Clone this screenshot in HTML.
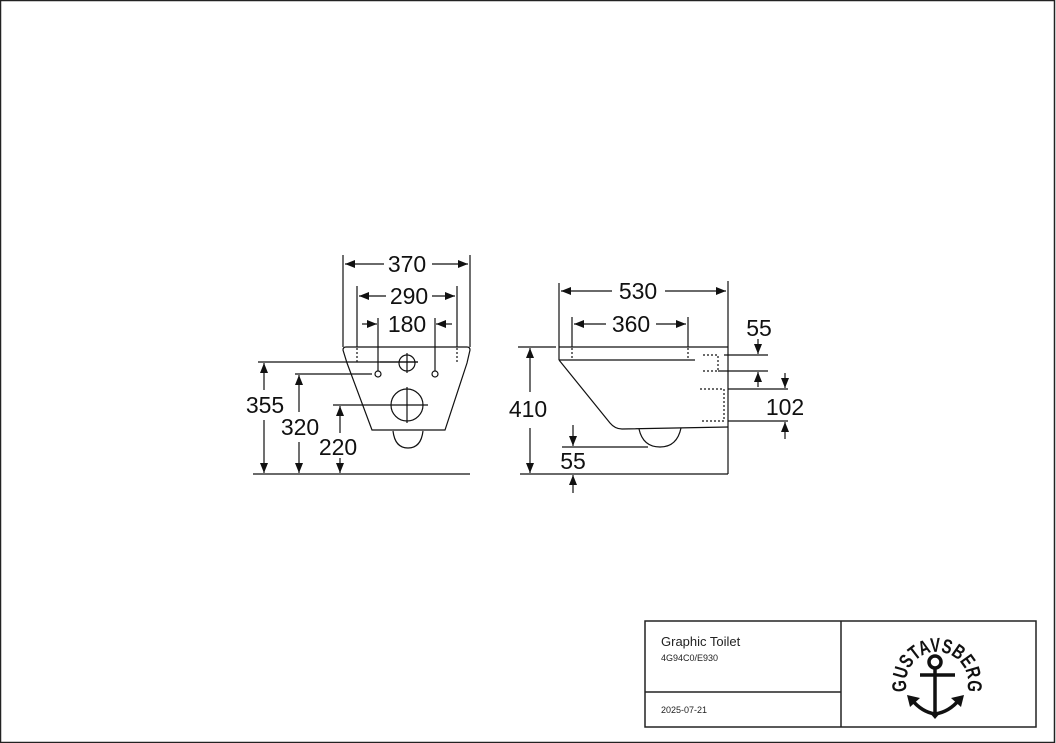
<!DOCTYPE html>
<html><head><meta charset="utf-8"><style>
html,body{margin:0;padding:0;background:#fff}
svg{display:block}
.d{font-family:"Liberation Sans",sans-serif;font-size:23px;fill:#111;text-anchor:middle}
</style></head><body>
<svg width="1056" height="743" viewBox="0 0 1056 743" xmlns="http://www.w3.org/2000/svg">
<defs>
<marker id="a" viewBox="0 0 10 8" refX="10" refY="4" markerWidth="10" markerHeight="8" markerUnits="userSpaceOnUse" orient="auto-start-reverse"><path d="M0,0L10,4L0,8z" fill="#111"/></marker>
</defs>
<rect x="0.5" y="0.5" width="1054" height="742" fill="none" stroke="#222" stroke-width="1.5"/>
<g stroke="#111" stroke-width="1.2" fill="none">
<line x1="343" y1="255" x2="343" y2="347"/><line x1="470" y1="255" x2="470" y2="347"/>
<line x1="357" y1="286" x2="357" y2="347"/><line x1="457" y1="286" x2="457" y2="347"/>
<line x1="357" y1="348" x2="357" y2="362" stroke-dasharray="2,2"/><line x1="457" y1="348" x2="457" y2="362" stroke-dasharray="2,2"/>
<line x1="378" y1="318" x2="378" y2="371"/><line x1="435" y1="318" x2="435" y2="371"/>
<line x1="345" y1="264" x2="384" y2="264" marker-start="url(#a)"/><line x1="432" y1="264" x2="468" y2="264" marker-end="url(#a)"/>
<line x1="359" y1="296" x2="386" y2="296" marker-start="url(#a)"/><line x1="432" y1="296" x2="455" y2="296" marker-end="url(#a)"/>
<line x1="362" y1="324" x2="377" y2="324" marker-end="url(#a)"/><line x1="452" y1="324" x2="436" y2="324" marker-end="url(#a)"/>
<path d="M346,347 L467,347 Q470,347 470,350 L467,363 L445,430 L372,430 L347,363 L343,350 Q343,347 346,347Z"/>
<path d="M393,431 Q395,448 408,448 Q421,448 423,431"/>
<circle cx="407" cy="363" r="8"/><line x1="407" y1="353" x2="407" y2="373"/><line x1="380" y1="362" x2="418" y2="362"/>
<circle cx="378" cy="374" r="3"/><circle cx="435" cy="374" r="3"/>
<circle cx="407" cy="405" r="16"/><line x1="407" y1="387" x2="407" y2="423"/>
<line x1="258" y1="362" x2="418" y2="362"/>
<line x1="295" y1="374" x2="372" y2="374"/>
<line x1="333" y1="405" x2="428" y2="405"/>
<line x1="253" y1="474" x2="470" y2="474"/>
<line x1="264" y1="390" x2="264" y2="363" marker-end="url(#a)"/><line x1="264" y1="420" x2="264" y2="473" marker-end="url(#a)"/>
<line x1="299" y1="412" x2="299" y2="375" marker-end="url(#a)"/><line x1="299" y1="442" x2="299" y2="473" marker-end="url(#a)"/>
<line x1="340" y1="433" x2="340" y2="406" marker-end="url(#a)"/><line x1="340" y1="458" x2="340" y2="473" marker-end="url(#a)"/>
<line x1="559" y1="283" x2="559" y2="347"/><line x1="728" y1="281" x2="728" y2="474"/>
<line x1="561" y1="291" x2="612" y2="291" marker-start="url(#a)"/><line x1="665" y1="291" x2="726" y2="291" marker-end="url(#a)"/>
<line x1="572" y1="317" x2="572" y2="347"/><line x1="688" y1="317" x2="688" y2="347"/>
<line x1="572" y1="348" x2="572" y2="360" stroke-dasharray="2,2"/><line x1="688" y1="348" x2="688" y2="360" stroke-dasharray="2,2"/>
<line x1="574" y1="324" x2="606" y2="324" marker-start="url(#a)"/><line x1="656" y1="324" x2="686" y2="324" marker-end="url(#a)"/>
<line x1="559" y1="347" x2="728" y2="347"/><line x1="559" y1="347" x2="559" y2="360"/><line x1="559" y1="360" x2="695" y2="360"/>
<path d="M559,360 L610,423 Q615,429 622,429 L728,427"/>
<path d="M639,429 Q643,447 660,447 Q677,447 681,428"/>
<line x1="518" y1="347" x2="556" y2="347"/>
<line x1="520" y1="474" x2="728" y2="474"/>
<line x1="530" y1="392" x2="530" y2="348" marker-end="url(#a)"/><line x1="530" y1="428" x2="530" y2="473" marker-end="url(#a)"/>
<line x1="562" y1="447" x2="648" y2="447"/>
<line x1="573" y1="425" x2="573" y2="446" marker-end="url(#a)"/><line x1="573" y1="493" x2="573" y2="475" marker-end="url(#a)"/>
<path d="M703,355 H718 V371 H703" stroke-dasharray="2,2"/>
<line x1="724" y1="355" x2="768" y2="355"/><line x1="718" y1="371" x2="768" y2="371"/>
<line x1="758" y1="339" x2="758" y2="354" marker-end="url(#a)"/><line x1="758" y1="387" x2="758" y2="372" marker-end="url(#a)"/>
<path d="M700,389 H724 V421 H700" stroke-dasharray="2,2"/>
<line x1="728" y1="389" x2="788" y2="389"/><line x1="728" y1="421" x2="788" y2="421"/>
<line x1="785" y1="373" x2="785" y2="388" marker-end="url(#a)"/><line x1="785" y1="439" x2="785" y2="422" marker-end="url(#a)"/>
</g>
<g class="d">
<text x="407" y="272">370</text><text x="409" y="304">290</text><text x="407" y="332">180</text>
<text x="265" y="413">355</text><text x="300" y="435">320</text><text x="338" y="455">220</text>
<text x="638" y="299">530</text><text x="631" y="332">360</text>
<text x="528" y="417">410</text><text x="573" y="469">55</text>
<text x="759" y="336">55</text><text x="785" y="415">102</text>
</g>
<g stroke="#222" stroke-width="1.5" fill="none">
<rect x="645" y="621" width="391" height="106"/>
<line x1="841" y1="621" x2="841" y2="727"/>
<line x1="645" y1="692" x2="841" y2="692"/>
</g>
<g font-family="Liberation Sans,sans-serif" fill="#222">
<text x="661" y="646" font-size="13">Graphic Toilet</text>
<text x="661" y="661" font-size="9">4G94C0/E930</text>
<text x="661" y="713" font-size="9">2025-07-21</text>
</g>
<defs><path id="arc" d="M907.9,693.6 A31,31 0 1 1 966.1,693.6"/></defs>
<text font-family="Liberation Sans,sans-serif" font-weight="bold" font-size="20" fill="#111"><textPath href="#arc" startOffset="50%" text-anchor="middle" textLength="114" lengthAdjust="spacingAndGlyphs">GUSTAVSBERG</textPath></text>
<g stroke="#111" fill="none" stroke-width="3.5">
<circle cx="935" cy="662" r="6"/>
<line x1="920" y1="675" x2="955" y2="675"/>
<line x1="935" y1="668" x2="935" y2="712"/>
<path d="M912,700 Q922,712 935,714 Q949,712 959,700"/>
</g>
<path d="M907,695 L920,698 L910,707Z M964,695 L951,698 L961,707Z M929,712 L941,712 L935,719Z" fill="#111"/>
</svg>
</body></html>
